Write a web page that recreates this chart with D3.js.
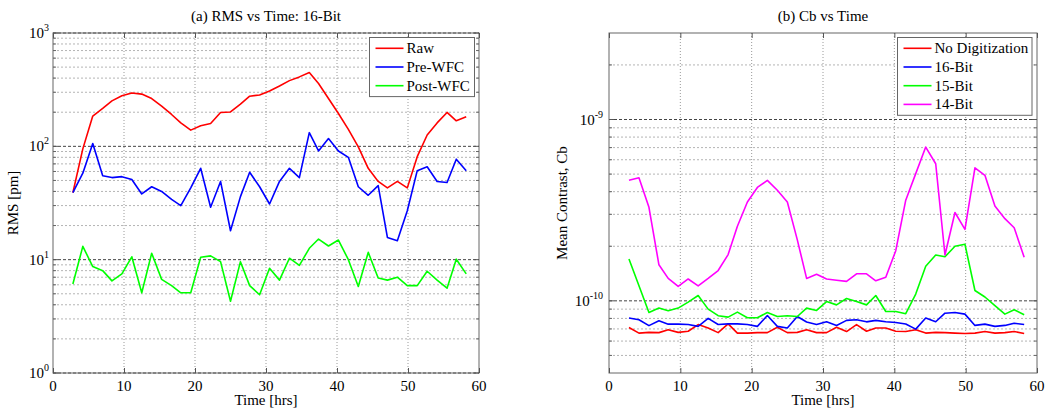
<!DOCTYPE html>
<html>
<head>
<meta charset="UTF-8">
<script src="https://cdnjs.cloudflare.com/ajax/libs/d3/7.8.5/d3.min.js"></script>
<style>
  body { margin: 0; background: #fff; }
  text { font-family: "Liberation Serif", "Times New Roman", serif; fill: #000; }
</style>
</head>
<body>
<div id="chart"></div>
<script>
// sample times (hours)
const times = [2.8, 4.2, 5.6, 7.0, 8.3, 9.7, 11.1, 12.5, 13.9, 15.3, 16.7, 18.0, 19.4, 20.8,
  22.2, 23.6, 25.0, 26.4, 27.7, 29.1, 30.5, 31.9, 33.3, 34.7, 36.1, 37.4, 38.8, 40.2, 41.6,
  43.0, 44.4, 45.8, 47.1, 48.5, 49.9, 51.3, 52.7, 54.1, 55.5, 56.8, 58.2];

// (a) RMS [pm]
const rawRms = [39, 95, 185, 216, 252, 279, 296, 289, 264, 226, 191, 161, 139, 152, 159, 199,
  201, 236, 277, 284, 308, 341, 380, 410, 448, 358, 264, 195, 141, 99, 64, 49, 43, 49, 43,
  81, 126, 161, 199, 168, 182];
const preWfc = [39, 58, 106, 55, 53, 54, 51, 38, 44, 40, 34, 30, 43, 64, 29, 49, 18, 36, 59,
  44, 31, 49, 64, 53, 132, 91, 117, 91, 80, 44, 37, 45, 15.7, 14.7, 27, 61, 66, 49, 48, 77, 61];
const postWfc = [6.1, 13.1, 8.7, 8.0, 6.5, 7.5, 10.6, 5.1, 11.4, 6.7, 5.9, 5.1, 5.1, 10.5,
  10.8, 9.6, 4.3, 9.6, 5.9, 4.9, 8.4, 6.6, 10.3, 8.9, 12.6, 15.2, 13.2, 14.9, 10.0, 5.8, 11.6,
  6.9, 6.6, 7.0, 5.9, 5.9, 7.9, 6.6, 5.6, 10.1, 7.5];

// (b) mean contrast Cb (units of 1e-10)
const noDig = [0.713, 0.664, 0.670, 0.668, 0.693, 0.670, 0.680, 0.740, 0.708, 0.668, 0.746,
  0.664, 0.664, 0.668, 0.668, 0.715, 0.668, 0.670, 0.693, 0.668, 0.668, 0.715, 0.677, 0.740,
  0.680, 0.708, 0.708, 0.680, 0.677, 0.693, 0.664, 0.670, 0.668, 0.664, 0.661, 0.664, 0.677,
  0.664, 0.668, 0.677, 0.661];
const bit16 = [0.804, 0.787, 0.730, 0.777, 0.744, 0.744, 0.740, 0.723, 0.800, 0.740, 0.746,
  0.746, 0.740, 0.723, 0.830, 0.723, 0.708, 0.820, 0.764, 0.740, 0.767, 0.732, 0.780, 0.787,
  0.766, 0.780, 0.767, 0.760, 0.746, 0.698, 0.804, 0.767, 0.855, 0.863, 0.845, 0.732, 0.744,
  0.723, 0.732, 0.753, 0.740];
const bit15 = [1.70, 1.21, 0.863, 0.912, 0.881, 0.912, 0.984, 1.07, 0.900, 0.828, 0.813,
  0.867, 0.807, 0.807, 0.863, 0.820, 0.828, 0.820, 0.912, 0.885, 0.991, 0.950, 1.03, 0.991,
  0.950, 1.07, 0.873, 0.873, 0.849, 1.09, 1.55, 1.79, 1.75, 2.00, 2.05, 1.14, 1.05, 0.940,
  0.845, 0.893, 0.838];
const bit14 = [4.62, 4.77, 3.28, 1.58, 1.33, 1.20, 1.32, 1.21, 1.33, 1.47, 1.80, 2.58, 3.51,
  4.22, 4.62, 4.07, 3.51, 2.17, 1.33, 1.40, 1.32, 1.30, 1.28, 1.41, 1.41, 1.29, 1.35, 1.89,
  3.59, 5.03, 7.05, 5.70, 1.79, 3.07, 2.48, 5.41, 4.92, 3.33, 2.84, 2.53, 1.74];

const xTicks = [0, 10, 20, 30, 40, 50, 60];

const W = 1049, H = 409;
const svg = d3.select("#chart").append("svg").attr("width", W).attr("height", H);

function panel(opt) {
  const x = d3.scaleLinear().domain([0, 60]).range([opt.left, opt.right]);
  const y = d3.scaleLog().domain(opt.yDomain).range([373, 33]);
  const g = svg.append("g");

  // minor grid
  const lo = Math.floor(Math.log10(opt.yDomain[0])), hi = Math.ceil(Math.log10(opt.yDomain[1]));
  const minor = [];
  for (let e = lo; e < hi; e++) for (let m = 2; m <= 9; m++) {
    const v = m * Math.pow(10, e);
    if (v > opt.yDomain[0] * 1.001 && v < opt.yDomain[1] * 0.999) minor.push(v);
  }
  g.selectAll(".mg").data(minor).join("line")
    .attr("x1", x(0)).attr("x2", x(60)).attr("y1", d => y(d)).attr("y2", d => y(d))
    .attr("stroke", "#b4b4b4").attr("stroke-width", 1).attr("stroke-dasharray", "2,2");
  g.selectAll(".majg").data(opt.majors).join("line")
    .attr("x1", x(0)).attr("x2", x(60)).attr("y1", d => y(d)).attr("y2", d => y(d))
    .attr("stroke", "#444").attr("stroke-width", 1).attr("stroke-dasharray", "3,2");
  g.selectAll(".vg").data(xTicks.slice(1, -1)).join("line")
    .attr("x1", d => x(d)).attr("x2", d => x(d)).attr("y1", 33).attr("y2", 373)
    .attr("stroke", "#9a9a9a").attr("stroke-width", 1).attr("stroke-dasharray", "1,2");

  // axes box + ticks
  g.append("rect").attr("x", x(0)).attr("y", 33).attr("width", x(60) - x(0)).attr("height", 340)
    .attr("fill", "none").attr("stroke", "#666").attr("stroke-width", 1);
  const bx = d3.axisBottom(x).tickValues(xTicks).tickSizeInner(-5).tickSizeOuter(0).tickFormat("");
  g.append("g").attr("transform", "translate(0,373)").call(bx).call(a => a.select(".domain").remove())
    .selectAll("line").attr("stroke", "#555");
  g.append("g").attr("transform", "translate(0,33)").call(d3.axisTop(x).tickValues(xTicks).tickSizeInner(-5).tickSizeOuter(0).tickFormat(""))
    .call(a => a.select(".domain").remove()).selectAll("line").attr("stroke", "#555");
  [[x(0), 1], [x(60), -1]].forEach(([px, s]) => {
    g.selectAll(null).data(opt.majors).join("line")
      .attr("x1", px).attr("x2", px + s * 5).attr("y1", d => y(d)).attr("y2", d => y(d)).attr("stroke", "#555");
    g.selectAll(null).data(minor).join("line")
      .attr("x1", px).attr("x2", px + s * 3).attr("y1", d => y(d)).attr("y2", d => y(d)).attr("stroke", "#666");
  });

  // x tick labels
  g.selectAll(".xl").data(xTicks).join("text")
    .attr("x", d => x(d)).attr("y", 391).attr("text-anchor", "middle").attr("font-size", 15)
    .text(d => d);
  // y tick labels (10^n)
  opt.majors.forEach(v => {
    const e = Math.round(Math.log10(v));
    const t = g.append("text").attr("x", x(0) - opt.labelGap).attr("y", y(v) + 5)
      .attr("text-anchor", "end").attr("font-size", 15);
    t.append("tspan").text("10");
    t.append("tspan").attr("dy", -7).attr("font-size", 10).text(e);
  });

  // labels
  svg.append("text").attr("x", (x(0) + x(60)) / 2).attr("y", 21).attr("text-anchor", "middle")
    .attr("font-size", 15).text(opt.title);
  svg.append("text").attr("x", (x(0) + x(60)) / 2).attr("y", 405).attr("text-anchor", "middle")
    .attr("font-size", 15).text("Time [hrs]");
  svg.append("text").attr("transform", `translate(${opt.yLabelX},203) rotate(-90)`)
    .attr("text-anchor", "middle").attr("font-size", 15).text(opt.yLabel);

  // series
  const line = d3.line().x((d, i) => x(times[i])).y(d => y(d * opt.scale));
  opt.series.forEach(s => {
    g.append("path").datum(s.values).attr("d", line).attr("fill", "none")
      .attr("stroke", s.color).attr("stroke-width", 1.6).attr("stroke-linejoin", "round");
  });

  // legend
  const lg = g.append("g");
  lg.append("rect").attr("x", opt.legend.x).attr("y", 37.5).attr("width", opt.legend.w)
    .attr("height", 18.7 * opt.series.length + 3).attr("fill", "#fff").attr("stroke", "#666");
  opt.series.forEach((s, i) => {
    const yy = 48.3 + i * 18.7;
    lg.append("line").attr("x1", opt.legend.x + 6).attr("x2", opt.legend.x + 34)
      .attr("y1", yy).attr("y2", yy).attr("stroke", s.color).attr("stroke-width", 1.6);
    lg.append("text").attr("x", opt.legend.x + 37).attr("y", yy + 5).attr("font-size", 15).text(s.name);
  });
}

panel({
  left: 53, right: 479, yDomain: [1, 1000], majors: [1, 10, 100, 1000], scale: 1, labelGap: 4,
  title: "(a) RMS vs Time: 16-Bit", yLabel: "RMS [pm]", yLabelX: 18,
  legend: { x: 369.5, w: 105 },
  series: [
    { name: "Raw", color: "#ff0000", values: rawRms },
    { name: "Pre-WFC", color: "#0000ff", values: preWfc },
    { name: "Post-WFC", color: "#00ff00", values: postWfc }
  ]
});

panel({
  left: 609, right: 1037, yDomain: [4e-11, 3e-9], majors: [1e-10, 1e-9], scale: 1e-10, labelGap: 6,
  title: "(b) Cb vs Time", yLabel: "Mean Contrast, Cb", yLabelX: 567,
  legend: { x: 897.5, w: 134.5 },
  series: [
    { name: "No Digitization", color: "#ff0000", values: noDig },
    { name: "16-Bit", color: "#0000ff", values: bit16 },
    { name: "15-Bit", color: "#00ff00", values: bit15 },
    { name: "14-Bit", color: "#ff00ff", values: bit14 }
  ]
});
</script>
</body>
</html>
